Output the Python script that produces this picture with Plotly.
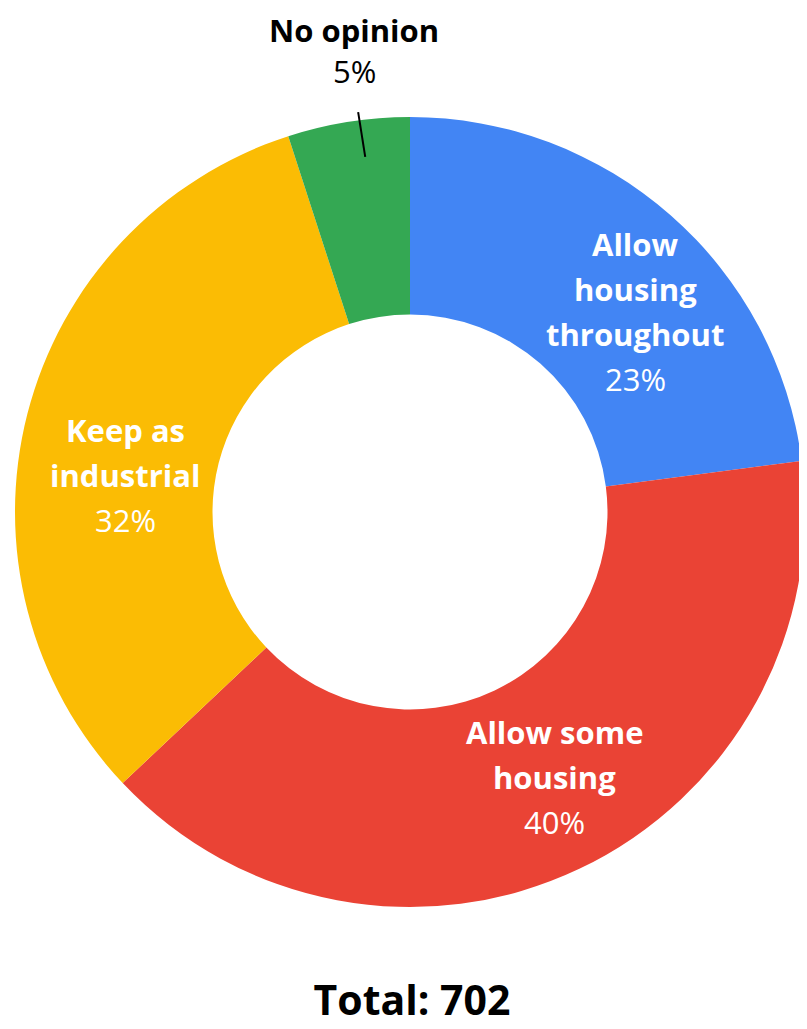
import math
import plotly.graph_objects as go

labels = ["Allow housing throughout", "Allow some housing", "Keep as industrial", "No opinion"]
display = [["Allow", "housing", "throughout"], ["Allow some", "housing"], ["Keep as", "industrial"], ["No opinion"]]
counts = [161, 281, 225, 35]
colors = ["#4285F4", "#EA4335", "#FBBC04", "#34A853"]
inside = [True, True, True, False]

# label styling: nudges (page px, +x right, +y down) applied to the mid-angle anchor
nudges = [(30, 22), (17, -3), (2, 36), (11, -2)]

total = sum(counts)
pcts = [round(100 * c / total) for c in counts]

W, H = 807, 1029
OFF = 8  # page body margin
PX0, PX1, PY0, PY1 = 13, 807, 117, 907  # pie box in page pixels
dom_x = [(PX0 - OFF) / W, (PX1 - OFF) / W]
dom_y = [1 - (PY1 - OFF) / H, 1 - (PY0 - OFF) / H]
cx = (PX0 + PX1) / 2
cy = (PY0 + PY1) / 2
R = (PY1 - PY0) / 2


def px(x):
    return (x - OFF) / W


def py(y):
    return 1 - (y - OFF) / H


FONT = "Open Sans"
FS = 31
LINE = 45

fig = go.Figure(go.Pie(
    labels=labels,
    values=counts,
    textinfo="none",
    marker=dict(colors=colors, line=dict(width=0)),
    hole=0.5,
    sort=False,
    direction="clockwise",
    rotation=0,
    domain=dict(x=dom_x, y=dom_y),
    showlegend=False,
    hoverinfo="label+percent",
))

cum = 0
for lab, c, ins, lines, p, (nx, ny) in zip(labels, counts, inside, display, pcts, nudges):
    mid = (cum + c / 2) / total * 2 * math.pi
    cum += c
    rows = [f"<b>{t}</b>" for t in lines] + [f"{p}%"]
    if ins:
        r = R * 0.75
        ax, ay = cx + r * math.sin(mid) + nx, cy - r * math.cos(mid) + ny
        n = len(rows)
        for i, t in enumerate(rows):
            yy = ay + (i - (n - 1) / 2) * LINE
            fig.add_annotation(xref="paper", yref="paper", x=px(ax), y=py(yy),
                               xanchor="center", yanchor="middle", showarrow=False,
                               text=t, font=dict(family=FONT, size=FS, color="white"))
    else:
        r0, r1 = R * 0.905, R * 1.02
        x0, y0 = cx + r0 * math.sin(mid) + nx, cy - r0 * math.cos(mid) + ny
        x1, y1 = cx + r1 * math.sin(mid) + nx, cy - r1 * math.cos(mid) + ny
        fig.add_shape(type="line", xref="paper", yref="paper",
                      x0=px(x0), y0=py(y0), x1=px(x1), y1=py(y1),
                      line=dict(color="black", width=2))
        spacing = 41
        base = y1 - 41  # centre of the last row
        n = len(rows)
        for i, t in enumerate(rows):
            yy = base - (n - 1 - i) * spacing
            fig.add_annotation(xref="paper", yref="paper", x=px(x1 - 4), y=py(yy),
                               xanchor="center", yanchor="middle", showarrow=False,
                               text=t, font=dict(family=FONT, size=FS, color="black"))

fig.update_layout(
    width=W, height=H,
    margin=dict(l=0, r=0, t=0, b=0),
    paper_bgcolor="white",
    title=dict(text=f"<b>Total: {total}</b>", x=px(412), xanchor="center",
               y=py(1001), yanchor="middle",
               font=dict(family=FONT, size=41, color="black")),
)

fig.write_html("out.html")
